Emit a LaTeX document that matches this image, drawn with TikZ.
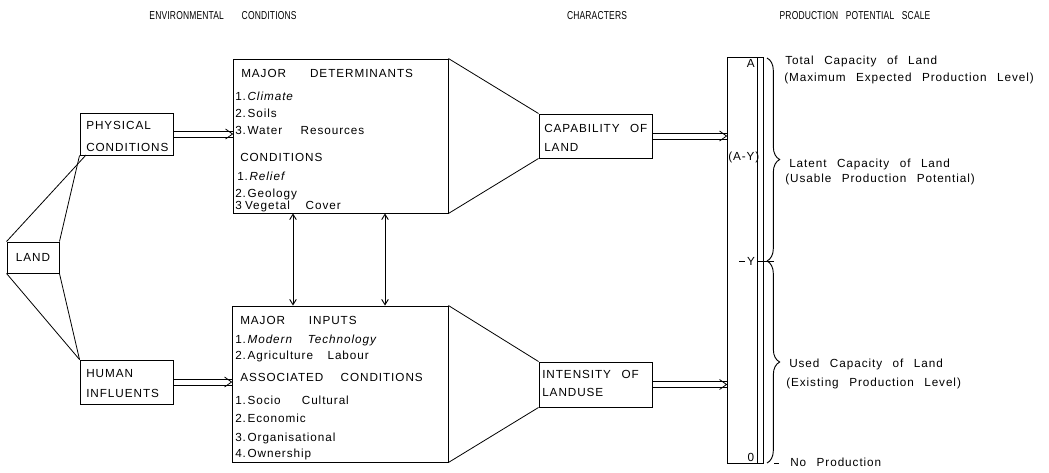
\documentclass[tikz,border=0pt]{standalone}
\usepackage{fontspec}
\usepackage{graphicx}
\setmainfont{Liberation Sans}
\newfontfamily\lsp[LetterSpace=8,WordSpace=2.5]{Liberation Sans}
\newfontfamily\hdr[LetterSpace=2,WordSpace=3]{Liberation Sans}
\usetikzlibrary{arrows.meta,decorations.pathreplacing,fit}
\newcommand\itm[2]{#1\kern1.2pt #2}
\newcommand\hd[1]{\scalebox{0.74}[1]{#1}}
\newcommand\dblar[2]{%
  \draw[conn] ([yshift=2.2pt]#1) -- ([yshift=2.2pt]#2);
  \draw[conn] ([yshift=-2.2pt]#1) -- ([yshift=-2.2pt]#2);
  \draw[conn] ([shift={(-7,-5)}]#2) -- (#2) -- ([shift={(-7,5)}]#2);}
\tikzset{
  box/.style={draw, line width=0.7pt, inner sep=0pt},
  txt/.style={anchor=base west, inner sep=0pt, font=\lsp\fontsize{8.8}{10}\selectfont},
  ctxt/.style={anchor=base, inner sep=0pt, font=\lsp\fontsize{8.8}{10}\selectfont},
  htxt/.style={anchor=base, inner sep=0pt, font=\hdr\fontsize{8.6}{10}\selectfont},
  conn/.style={line width=0.6pt},
  vd/.style={line width=0.7pt, {Straight Barb[length=4pt,width=5pt]}-{Straight Barb[length=4pt,width=5pt]}},
  brc/.style={line width=0.7pt, decorate, decoration={brace, amplitude=9.5pt, aspect=0.5}},
}
\begin{document}
\begin{tikzpicture}[x=0.75pt,y=-0.75pt]
\useasboundingbox (0,0) rectangle (1049,472);
\fill[white] (0,0) rectangle (1049,472);

% headers
\node[htxt] (h1) at (223,19.5) {\hd{ENVIRONMENTAL\hspace{18pt}CONDITIONS}};
\node[htxt] (h2) at (597,19.5) {\hd{CHARACTERS}};
\node[htxt] (h3) at (855,19.5) {\hd{PRODUCTION POTENTIAL SCALE}};

% left boxes
\node[box, fit={(7,242) (59,273)}] (land) {};
\node[ctxt] (landt) at (33,261.5) {LAND};
\node[box, fit={(80,113) (173,155)}] (phys) {};
\node[txt] (phys1) at (86,129) {PHYSICAL};
\node[txt] (phys2) at (86,151) {CONDITIONS};
\node[box, fit={(80,360) (173,404)}] (hum) {};
\node[txt] (hum1) at (86,377) {HUMAN};
\node[txt] (hum2) at (86,397) {INFLUENTS};

\coordinate (pA) at (86,155);
\draw[conn] (land.north west) -- (pA);
\draw[conn] (land.north east) -- (phys.south west);
\draw[conn] (land.south west) -- (hum.north west);
\draw[conn] (land.south east) -- (hum.north west);

% big boxes
\node[box, fit={(233,59) (448,213)}] (det) {};
\node[txt] (d0) at (241,77) {MAJOR\hspace{18pt}DETERMINANTS};
\node[txt] (d1) at (235,100) {\itm{1.}{\textit{Climate}}};
\node[txt] (d2) at (235,117) {\itm{2.}{Soils}};
\node[txt] (d3) at (235,134) {\itm{3.}{Water\hspace{6pt} Resources}};
\node[txt] (d4) at (240,161) {CONDITIONS};
\node[txt] (d5) at (237,180) {\itm{1.}{\textit{Relief}}};
\node[txt] (d6) at (235,197) {\itm{2.}{Geology}};
\node[txt] (d7) at (235,209) {3\kern2.5pt Vegetal\hspace{4pt} Cover};

\node[box, fit={(232,306) (448,462)}] (inp) {};
\node[txt] (i0) at (240,324) {MAJOR\hspace{10pt} INPUTS};
\node[txt] (i1) at (235,343) {\itm{1.}{\textit{Modern\hspace{4pt} Technology}}};
\node[txt] (i2) at (235,359) {\itm{2.}{Agriculture\hspace{3pt} Labour}};
\node[txt] (i3) at (240,381) {ASSOCIATED\hspace{5pt} CONDITIONS};
\node[txt] (i4) at (235,404) {\itm{1.}{Socio\hspace{8pt} Cultural}};
\node[txt] (i5) at (235,422) {\itm{2.}{Economic}};
\node[txt] (i6) at (235,441) {\itm{3.}{Organisational}};
\node[txt] (i7) at (235,457) {\itm{4.}{Ownership}};

% character boxes
\node[box, fit={(539,114) (652,158)}] (cap) {};
\node[txt] (cap1) at (544,132) {CAPABILITY OF};
\node[txt] (cap2) at (544,151) {LAND};
\node[box, fit={(539,362) (652,407)}] (inten) {};
\node[txt] (int1) at (542,378) {INTENSITY OF};
\node[txt] (int2) at (542,396) {LANDUSE};

\draw[conn] (det.north east) -- (cap.north west);
\draw[conn] (det.south east) -- (cap.south west);
\draw[conn] (inp.north east) -- (inten.north west);
\draw[conn] (inp.south east) -- (inten.south west);

% scale
\node[box, fit={(727,57) (763,463)}] (scale) {};
\node[box, fit={(757,57) (763,463)}] (strip) {};
\node[anchor=east, inner sep=0pt, font=\lsp\fontsize{8.8}{10}\selectfont] (lA) at (755,63) {A};
\node[anchor=west, inner sep=0pt, font=\lsp\fontsize{8.8}{10}\selectfont] (lAY) at (728,157) {(A-Y)};
\node[anchor=center, inner sep=0pt, font=\lsp\fontsize{8.8}{10}\selectfont] (lY) at (751,261) {Y};
\node[anchor=center, inner sep=0pt, font=\lsp\fontsize{8.8}{10}\selectfont] (l0) at (751,457) {0};
\coordinate (tY1) at (739,261);
\coordinate (tY2) at (745,261);
\draw[conn] (tY1) -- (tY2);
\coordinate (aY) at (774,261);
\draw[conn] (aY) -- (aY -| strip.west);

% double arrows
\coordinate (e1) at (phys.east -| det.west);
\coordinate (e2) at (hum.east -| inp.west);
\coordinate (e3) at (cap.east -| scale.west);
\coordinate (e4) at (inten.east -| scale.west);
\dblar{phys.east}{e1}
\dblar{hum.east}{e2}
\dblar{cap.east}{e3}
\dblar{inten.east}{e4}

% vertical two-way arrows
\coordinate (v1) at (293,260);
\coordinate (v2) at (385,260);
\draw[vd] (v1 |- det.south) -- (v1 |- inp.north);
\draw[vd] (v2 |- det.south) -- (v2 |- inp.north);

% braces
\coordinate (bA) at (767,58);
\coordinate (bY) at (767,261);
\coordinate (b0) at (767,463);
\draw[brc] (bA) -- (bY);
\draw[brc] (bY) -- (b0);
\coordinate (t0a) at (774,463);
\coordinate (t0b) at (779,463);
\draw[conn] (t0a) -- (t0b);

% right labels
\node[txt] (r1) at (785,64) {Total Capacity of Land};
\node[txt] (r2) at (784,81) {(Maximum Expected Production Level)};
\node[txt] (r3) at (789,167) {Latent Capacity of Land};
\node[txt] (r4) at (785,182) {(Usable Production Potential)};
\node[txt] (r5) at (789,367) {Used Capacity of Land};
\node[txt] (r6) at (786,386) {(Existing Production Level)};
\node[txt] (r7) at (790,466) {No Production};
\end{tikzpicture}
\end{document}
